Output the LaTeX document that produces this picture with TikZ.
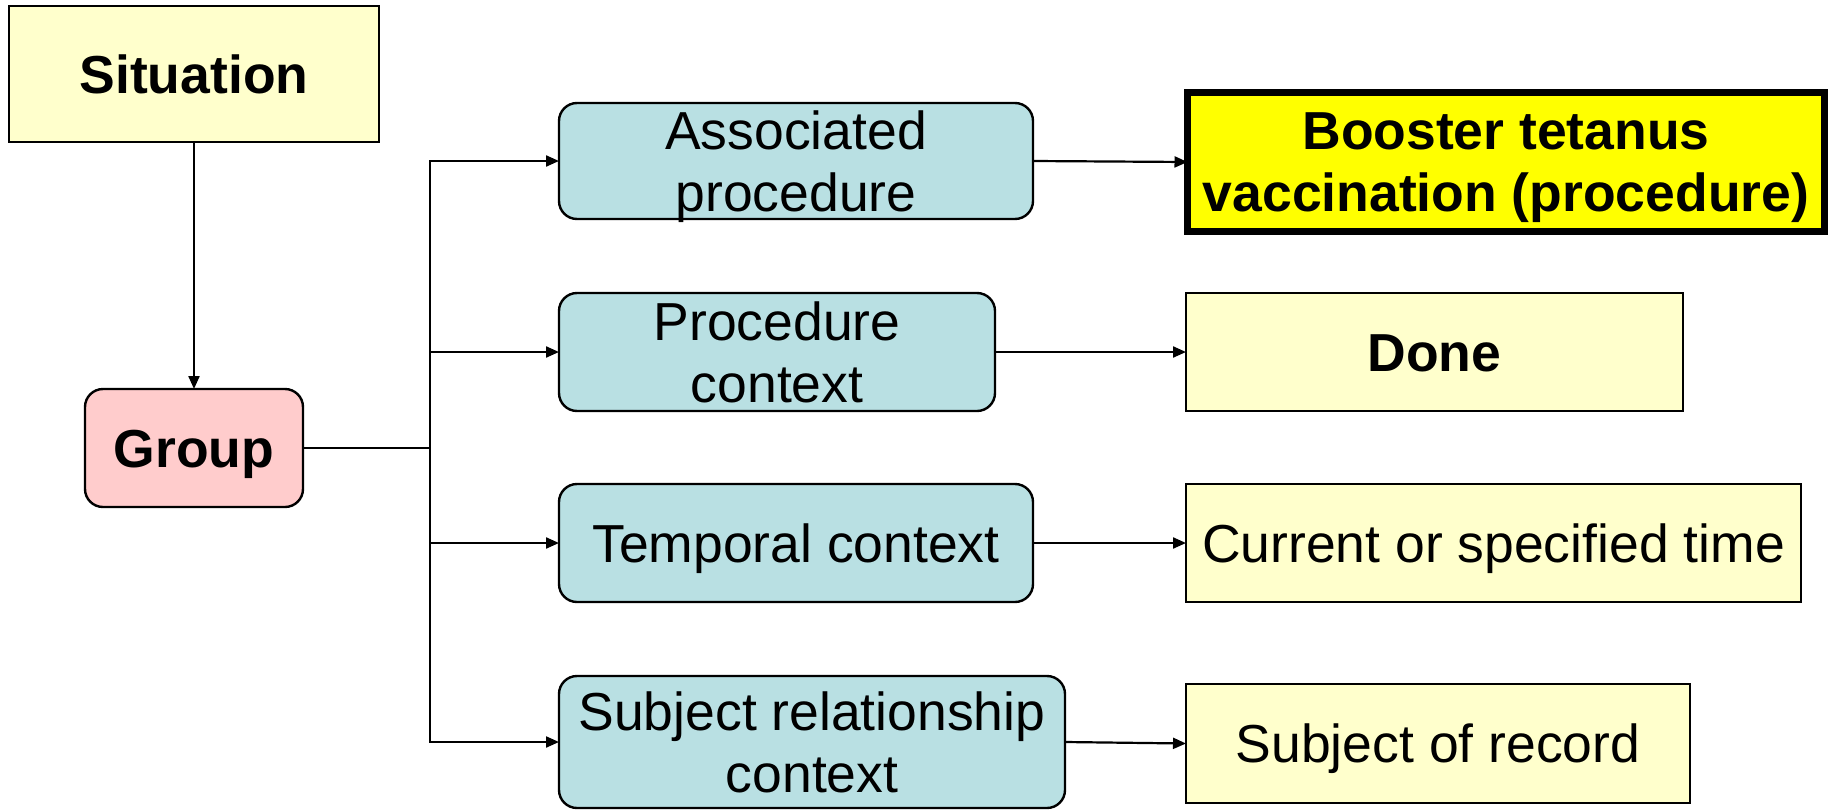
\documentclass[tikz,border=0pt]{standalone}
\usepackage{fontspec}
\setmainfont{Liberation Sans}
\usetikzlibrary{arrows.meta}
\definecolor{lightyel}{HTML}{FFFFCC}
\definecolor{pinkf}{HTML}{FFCCCC}
\definecolor{tealf}{HTML}{B9E0E3}
\definecolor{brightyel}{HTML}{FFFF00}
\begin{document}
\begin{tikzpicture}[x=1pt,y=-1pt,
  box/.style={draw=black, line width=2.4pt, inner sep=0pt, outer sep=0pt},
  yelbox/.style={box, fill=lightyel},
  pinkbox/.style={box, fill=pinkf, rounded corners=18pt},
  tealbox/.style={box, fill=tealf, rounded corners=18pt},
  hibox/.style={box, fill=brightyel, line width=7pt},
  lab/.style={font=\fontsize{53.5}{62}\selectfont, align=center, inner sep=0pt},
  blab/.style={lab, font=\fontsize{53.5}{62}\selectfont\bfseries},
  one/.style={text height=38.3pt, text depth=0pt},
  conn/.style={line width=2.2pt, -{Triangle[length=13pt,width=11pt]}},
  plain/.style={line width=2.2pt},
]
\useasboundingbox (0,0) rectangle (1829,809);

% left column
\node[yelbox, minimum width=370pt, minimum height=136pt,
  label={[blab, one]center:Situation}] (sit) at (194,74) {};
\node[pinkbox, minimum width=218pt, minimum height=118pt,
  label={[blab, one]center:Group}] (grp) at (194,448) {};

% middle column
\node[tealbox, minimum width=474pt, minimum height=116pt,
  label={[lab, yshift=-5.5pt]center:{Associated\\procedure}}] (ap) at (796,161) {};
\node[tealbox, minimum width=436pt, minimum height=118pt,
  label={[lab]center:{Procedure\\context}}] (pc) at (777,352) {};
\node[tealbox, minimum width=474pt, minimum height=118pt,
  label={[lab, one]center:Temporal context}] (tc) at (796,543) {};
\node[tealbox, minimum width=506pt, minimum height=132pt,
  label={[lab]center:{Subject relationship\\context}}] (src) at (812,742) {};

% right column
\node[hibox, minimum width=637pt, minimum height=139pt,
  label={[blab, yshift=-5.5pt]center:{Booster tetanus\\vaccination (procedure)}}] (boost) at (1506,162) {};
\node[yelbox, minimum width=497pt, minimum height=118pt,
  label={[blab, one]center:Done}] (done) at (1434.5,352) {};
\node[yelbox, minimum width=615pt, minimum height=118pt,
  label={[lab, one]center:Current or specified time}] (cur) at (1493.5,543) {};
\node[yelbox, minimum width=504pt, minimum height=119pt,
  label={[lab, one]center:Subject of record}] (sor) at (1438,743.5) {};

% connectors
\coordinate (bus) at (430,448);
\draw[conn] (sit.south) -- (grp.north);
\draw[plain] (grp.east) -- (bus);
\draw[conn] (bus |- src.west) |- (ap.west);
\draw[conn] (bus |- ap.west) |- (src.west);
\draw[conn] (bus |- pc.west) -- (pc.west);
\draw[conn] (bus |- tc.west) -- (tc.west);

\draw[conn] (ap.east) -- (boost.west);
\draw[conn] (pc.east) -- (done.west);
\draw[conn] (tc.east) -- (cur.west);
\draw[conn] (src.east) -- (sor.west);
\end{tikzpicture}
\end{document}
